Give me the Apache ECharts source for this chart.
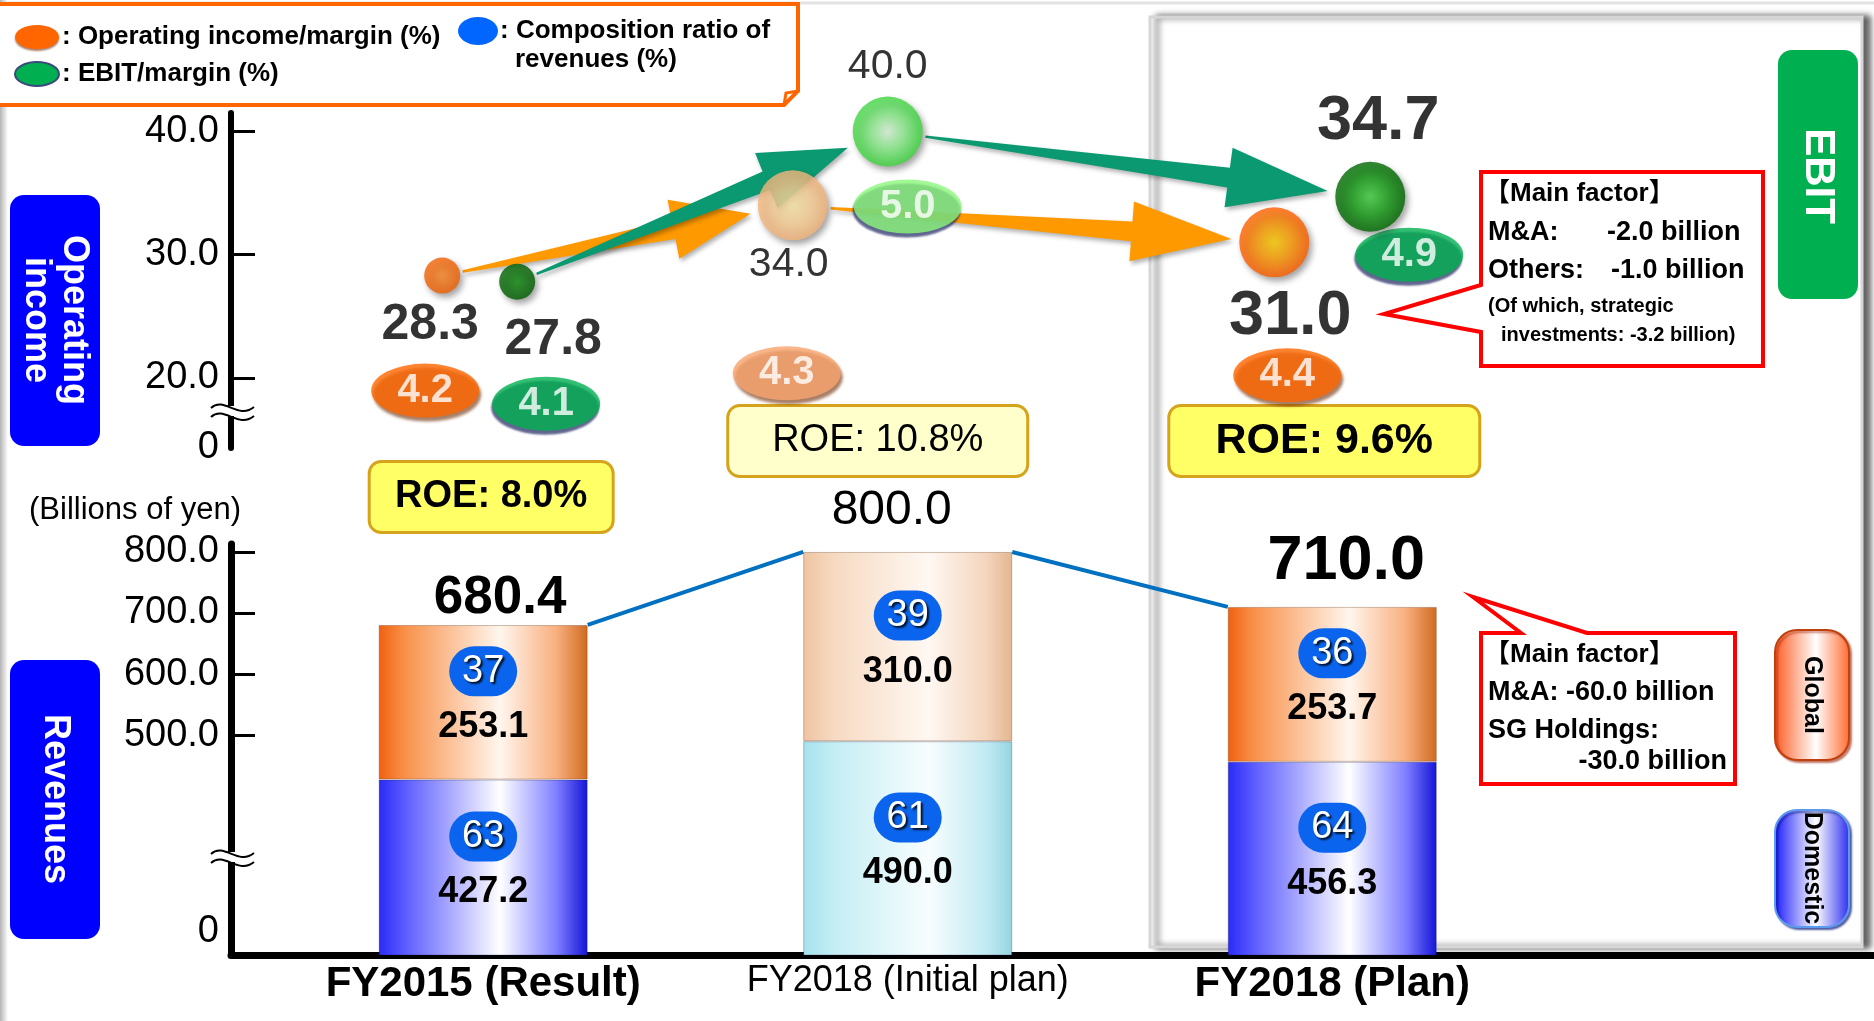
<!DOCTYPE html>
<html lang="en">
<head>
<meta charset="utf-8">
<title>Operating income, EBIT and revenues: FY2015 vs FY2018</title>
<script src="https://cdn.jsdelivr.net/npm/echarts@6.0.0/dist/echarts.min.js"></script>
<style>
  html, body { margin: 0; padding: 0; background: #ffffff; }
  #chart { width: 1874px; height: 1021px; }
</style>
</head>
<body>
<div id="chart"></div>
<script>
// ---------- data (billions of yen, %) ----------
const categories      = ['FY2015 (Result)', 'FY2018 (Initial plan)', 'FY2018 (Plan)'];
const operatingIncome = [28.3, 34.0, 31.0];
const operatingMargin = [4.2, 4.3, 4.4];
const ebit            = [27.8, 40.0, 34.7];
const ebitMargin      = [4.1, 5.0, 4.9];
const roe             = [8.0, 10.8, 9.6];
const revenueDomestic = [427.2, 490.0, 456.3];
const revenueGlobal   = [253.1, 310.0, 253.7];
const revenueTotal    = [680.4, 800.0, 710.0];
const ratioDomestic   = [63, 61, 64];
const ratioGlobal     = [37, 39, 36];
const incomeTicks     = [20, 30, 40];
const revenueTicks    = [500, 600, 700, 800];

// ---------- layout & styling ----------
const FONT = '"Liberation Sans", Arial, "Noto Sans CJK JP", sans-serif';
// both value axes are broken: the base of each axis is labelled 0
const INCOME_AXIS  = { min: 14.3, max: 41.5 };
const REVENUE_AXIS = { min: 140, max: 813 };
const X_RANGE      = { min: -0.594, max: 3.276 };
const BAR_W = 209;

// horizontal nudges (px) of the two marker columns inside each category slot
const OP_DX     = [-41, -115, -58];
const EBIT_DX   = [34, -20, 38];
const BALL_SIZE = [36, 70, 70];

const OP_LABEL = [
  { dx: -12, dy: 50, size: 50, weight: 'bold' },
  { dx: -4,  dy: 59, size: 41, weight: 'normal' },
  { dx: 16,  dy: 74, size: 63, weight: 'bold' }
];
const EBIT_LABEL = [
  { dx: 36, dy: 58,  size: 50, weight: 'bold' },
  { dx: 0,  dy: -65, size: 41, weight: 'normal' },
  { dx: 8,  dy: -75, size: 63, weight: 'bold' }
];
const OP_BADGE = [
  { dx: -17, dy: 115, fill: '#FF6600' },
  { dx: -6,  dy: 168, fill: '#F9A46E' },
  { dx: 13,  dy: 133, fill: '#FF6600' }
];
const EBIT_BADGE = [
  { dx: 29, dy: 122, fill: '#00B050' },
  { dx: 20, dy: 75,  fill: '#8CF77A' },
  { dx: 39, dy: 58,  fill: '#00B050' }
];
const ROE_BOX = [
  { dx: 8,   cy: 497, w: 244, h: 71, fill: '#FFFF66', size: 38, weight: 'bold' },
  { dx: -30, cy: 441, w: 300, h: 71, fill: '#FFFFCC', size: 38, weight: 'normal' },
  { dx: -8,  cy: 441, w: 311, h: 71, fill: '#FFFF66', size: 43, weight: 'bold' }
];
const TOTAL_LABEL = [
  { dx: 17,  dy: -27, size: 53, weight: 'bold' },
  { dx: -16, dy: -41, size: 48, weight: 'normal' },
  { dx: 14,  dy: -45, size: 63, weight: 'bold' }
];
const CATEGORY_STYLE = ['b', 'r', 'b'];
const ARROW = { tail: 1.2, shaft: 10, wing: 30, headMin: 70, headMax: 100, headRatio: 0.22 };
const ARROW_COLOR = ['#FF9900', '#0A9970'];

function radial(stops) {
  return new echarts.graphic.RadialGradient(0.5, 0.5, 0.5,
    stops.map(([offset, color]) => ({ offset, color })));
}
function linearH(stops) {
  return new echarts.graphic.LinearGradient(0, 0, 1, 0,
    stops.map(([offset, color]) => ({ offset, color })));
}

const OP_BALL_FILL = [
  radial([[0, '#FF8A2A'], [1, '#F05E00']]),
  radial([[0, '#FFEAA8'], [0.55, '#FDD398'], [1, '#F4B47A']]),
  radial([[0, '#FFD000'], [0.45, '#FFA000'], [1, '#FF5C00']])
];
const EBIT_BALL_FILL = [
  radial([[0, '#128C12'], [1, '#005C00']]),
  radial([[0, '#DDF7DD'], [0.5, '#8AF08A'], [1, '#3CD63C']]),
  radial([[0, '#40D240'], [0.55, '#129A12'], [1, '#006600']])
];
const BLUE_FILL   = linearH([[0, '#2A2AF6'], [0.12, '#5A5AFF'], [0.58, '#FFFFFF'], [0.85, '#8080FF'], [1, '#1414D8']]);
const CYAN_FILL   = linearH([[0, '#A6E2EC'], [0.15, '#C4EEF4'], [0.6, '#F8FDFE'], [0.88, '#C0EAF2'], [1, '#96D4E0']]);
const ORANGE_FILL = linearH([[0, '#F06010'], [0.12, '#F89048'], [0.58, '#FFF6EE'], [0.85, '#F8B080'], [1, '#D06A20']]);
const PEACH_FILL  = linearH([[0, '#EEC4A2'], [0.15, '#F6DAC2'], [0.6, '#FFF8F2'], [0.88, '#F4D4BC'], [1, '#E2B690']]);
const DOMESTIC_FILL = [BLUE_FILL, CYAN_FILL, BLUE_FILL];
const GLOBAL_FILL   = [ORANGE_FILL, PEACH_FILL, ORANGE_FILL];

const BAR_RICH = {
  c: {
    color: '#fff', backgroundColor: '#0A64EE', width: 68, height: 50, lineHeight: 50,
    borderRadius: 25, align: 'center', fontSize: 38, fontFamily: FONT,
    textShadowColor: 'rgba(0,0,0,0.85)', textShadowBlur: 2, textShadowOffsetX: 2, textShadowOffsetY: 2
  },
  v: { color: '#000', fontSize: 36, fontWeight: 'bold', lineHeight: 62, align: 'center', fontFamily: FONT }
};

// ---------- helpers for drawn annotations ----------
function text(x, y, str, size, weight, align) {
  return {
    type: 'text', x, y, z: 30,
    style: { text: str, fontSize: size, fontWeight: weight || 'normal', fontFamily: FONT,
             fill: '#000', align: align || 'left', verticalAlign: 'middle' }
  };
}
function vtext(cx, cy, str, size, color, lineHeight) {
  return {
    type: 'text', x: cx, y: cy, rotation: -Math.PI / 2, z: 31,
    style: { text: str, fontSize: size, fontWeight: 'bold', fontFamily: FONT, fill: color,
             align: 'center', verticalAlign: 'middle', lineHeight: lineHeight || size }
  };
}
function breakMark(y) {
  return [
    { type: 'rect', shape: { x: 222, y: y - 6, width: 20, height: 10 }, style: { fill: '#fff' }, z: 12 },
    { type: 'bezierCurve', shape: { x1: 211, y1: y - 4, cpx1: 224, cpy1: y - 16, cpx2: 238, cpy2: y + 8, x2: 254, y2: y - 5 },
      style: { stroke: '#000', lineWidth: 2, fill: null }, z: 13 },
    { type: 'bezierCurve', shape: { x1: 211, y1: y + 5, cpx1: 224, cpy1: y - 7, cpx2: 238, cpy2: y + 17, x2: 254, y2: y + 4 },
      style: { stroke: '#000', lineWidth: 2, fill: null }, z: 13 }
  ];
}

// ---------- series renderers ----------
function renderArrow(params, api) {
  const i0 = api.value(0), i1 = api.value(2), s = api.value(4);
  const dx = s === 0 ? OP_DX : EBIT_DX;
  const a = api.coord([i0, api.value(1)]); a[0] += dx[i0];
  const b = api.coord([i1, api.value(3)]); b[0] += dx[i1];
  let ux = b[0] - a[0], uy = b[1] - a[1];
  const len = Math.hypot(ux, uy); ux /= len; uy /= len;
  const nx = -uy, ny = ux;
  const r0 = BALL_SIZE[i0] / 2 + 3, r1 = BALL_SIZE[i1] / 2 + 8;
  const st = [a[0] + ux * r0, a[1] + uy * r0];
  const tip = [b[0] - ux * r1, b[1] - uy * r1];
  const head = Math.max(ARROW.headMin, Math.min(ARROW.headMax, len * ARROW.headRatio));
  const hb = [tip[0] - ux * head, tip[1] - uy * head];
  const P = (p, k) => [p[0] + nx * k, p[1] + ny * k];
  return {
    type: 'polygon',
    shape: { points: [P(st, ARROW.tail), P(hb, ARROW.shaft), P(hb, ARROW.wing), tip,
                      P(hb, -ARROW.wing), P(hb, -ARROW.shaft), P(st, -ARROW.tail)] },
    style: { fill: ARROW_COLOR[s], shadowBlur: 4, shadowColor: 'rgba(0,0,0,0.3)', shadowOffsetX: 2, shadowOffsetY: 3 }
  };
}

function renderRoe(params, api) {
  const i = api.value(0);
  const b = ROE_BOX[i];
  const cx = api.coord([i, INCOME_AXIS.min])[0] + b.dx;
  return {
    type: 'group',
    children: [
      { type: 'rect', shape: { x: cx - b.w / 2, y: b.cy - b.h / 2, width: b.w, height: b.h, r: 12 },
        style: { fill: b.fill, stroke: '#D6A41C', lineWidth: 3 } },
      { type: 'text', x: cx, y: b.cy,
        style: { text: 'ROE: ' + api.value(1).toFixed(1) + '%', fontSize: b.size, fontWeight: b.weight,
                 fontFamily: FONT, fill: '#000', align: 'center', verticalAlign: 'middle' } }
    ]
  };
}

function renderTotals(params, api) {
  const i = api.value(0), v = api.value(1);
  const p = api.coord([i, v]);
  const t = TOTAL_LABEL[i];
  const children = [];
  if (i < revenueTotal.length - 1) {
    const q = api.coord([i + 1, revenueTotal[i + 1]]);
    children.push({ type: 'line',
      shape: { x1: p[0] + BAR_W / 2, y1: p[1], x2: q[0] - BAR_W / 2, y2: q[1] },
      style: { stroke: '#0070C0', lineWidth: 4 } });
  }
  children.push({ type: 'text', x: p[0] + t.dx, y: p[1] + t.dy,
    style: { text: v.toFixed(1), fontSize: t.size, fontWeight: t.weight, fontFamily: FONT,
             fill: '#000', align: 'center', verticalAlign: 'middle' } });
  return { type: 'group', children };
}

// ---------- series data built from the arrays ----------
const arrowData = [];
[operatingIncome, ebit].forEach((vals, s) => {
  for (let i = 0; i < vals.length - 1; i++) arrowData.push([i, vals[i], i + 1, vals[i + 1], s]);
});

function ballData(vals, dxs, fills, labels) {
  return vals.map((v, i) => ({
    value: [i, v],
    symbolSize: BALL_SIZE[i],
    symbolOffset: [dxs[i], 0],
    itemStyle: { color: fills[i] },
    label: { offset: [labels[i].dx, labels[i].dy], fontSize: labels[i].size, fontWeight: labels[i].weight }
  }));
}
function badgeData(vals, dxs, badges) {
  return vals.map((v, i) => ({
    value: [i, v],
    symbolOffset: [dxs[i] + badges[i].dx, badges[i].dy],
    itemStyle: { color: badges[i].fill }
  }));
}
// stacked bars: the amount is stored first so the stack runs on the revenue dimension
function barData(vals, fills) {
  return vals.map((v, i) => ({ value: [v, i], itemStyle: { color: fills[i] } }));
}

const option = {
  animation: false,
  backgroundColor: '#ffffff',
  textStyle: { fontFamily: FONT },
  grid: [
    { left: 231, right: 0, top: 113, height: 335, outerBoundsMode: 'none' },
    { left: 231, right: 0, top: 544, height: 411, outerBoundsMode: 'none' }
  ],
  xAxis: [
    { gridIndex: 0, type: 'value', min: X_RANGE.min, max: X_RANGE.max, show: false },
    {
      gridIndex: 1, type: 'value', min: X_RANGE.min, max: X_RANGE.max,
      axisLine: { show: true, onZero: false, lineStyle: { color: '#000', width: 7 } },
      axisTick: { show: false }, splitLine: { show: false },
      axisLabel: {
        customValues: categories.map((c, i) => i), margin: 8,
        formatter: v => { const i = Math.round(v); return '{' + CATEGORY_STYLE[i] + '|' + categories[i] + '}'; },
        rich: {
          b: { fontSize: 42, fontWeight: 'bold', color: '#000', fontFamily: FONT },
          r: { fontSize: 36, color: '#000', fontFamily: FONT }
        }
      }
    }
  ],
  yAxis: [
    {
      gridIndex: 0, type: 'value', min: INCOME_AXIS.min, max: INCOME_AXIS.max,
      axisLine: { show: true, onZero: false, lineStyle: { color: '#000', width: 6 } },
      axisTick: { show: true, inside: true, length: 24, customValues: incomeTicks, lineStyle: { color: '#000', width: 3 } },
      splitLine: { show: false },
      axisLabel: {
        customValues: [INCOME_AXIS.min].concat(incomeTicks), margin: 12, fontSize: 38, color: '#000',
        formatter: v => v < incomeTicks[0] ? '0' : v.toFixed(1)
      }
    },
    {
      gridIndex: 1, type: 'value', min: REVENUE_AXIS.min, max: REVENUE_AXIS.max,
      axisLine: { show: true, onZero: false, lineStyle: { color: '#000', width: 7 } },
      axisTick: { show: true, inside: true, length: 24, customValues: revenueTicks, lineStyle: { color: '#000', width: 3 } },
      splitLine: { show: false },
      axisLabel: {
        customValues: [REVENUE_AXIS.min].concat(revenueTicks), margin: 12, fontSize: 38, color: '#000',
        formatter: v => v < revenueTicks[0] ? '{z|0}' : v.toFixed(1),
        rich: { z: { fontSize: 38, color: '#000', padding: [0, 0, 46, 0], fontFamily: FONT } }
      }
    }
  ],
  series: [
    {
      type: 'custom', name: 'Trend', xAxisIndex: 0, yAxisIndex: 0, silent: true, z: 2,
      encode: { x: [0, 2], y: [1, 3] },
      renderItem: renderArrow, data: arrowData
    },
    {
      type: 'custom', name: 'ROE', xAxisIndex: 0, yAxisIndex: 0, silent: true, z: 3,
      encode: { x: 0, y: -1 },
      renderItem: renderRoe, data: roe.map((v, i) => [i, v])
    },
    {
      type: 'scatter', name: 'Operating margin (%)', xAxisIndex: 0, yAxisIndex: 0, z: 4,
      symbol: 'circle', symbolSize: [108, 54],
      data: badgeData(operatingIncome, OP_DX, OP_BADGE),
      itemStyle: { shadowBlur: 3, shadowColor: 'rgba(110,40,0,0.75)', shadowOffsetX: 2, shadowOffsetY: 4 },
      label: { show: true, position: 'inside', color: '#fff', fontSize: 40, fontWeight: 'bold',
               formatter: p => operatingMargin[p.dataIndex].toFixed(1) }
    },
    {
      type: 'scatter', name: 'EBIT margin (%)', xAxisIndex: 0, yAxisIndex: 0, z: 4,
      symbol: 'circle', symbolSize: [108, 54],
      data: badgeData(ebit, EBIT_DX, EBIT_BADGE),
      itemStyle: { shadowBlur: 2, shadowColor: 'rgba(20,30,90,0.85)', shadowOffsetX: -1, shadowOffsetY: 4 },
      label: { show: true, position: 'inside', color: '#fff', fontSize: 40, fontWeight: 'bold',
               formatter: p => ebitMargin[p.dataIndex].toFixed(1) }
    },
    {
      type: 'scatter', name: 'Operating income/margin (%)', xAxisIndex: 0, yAxisIndex: 0, z: 5,
      symbol: 'circle',
      data: ballData(operatingIncome, OP_DX, OP_BALL_FILL, OP_LABEL),
      itemStyle: { shadowBlur: 6, shadowColor: 'rgba(0,0,0,0.45)', shadowOffsetX: 3, shadowOffsetY: 4 },
      label: { show: true, position: 'inside', color: '#000', formatter: p => p.value[1].toFixed(1) }
    },
    {
      type: 'scatter', name: 'EBIT/margin (%)', xAxisIndex: 0, yAxisIndex: 0, z: 5,
      symbol: 'circle',
      data: ballData(ebit, EBIT_DX, EBIT_BALL_FILL, EBIT_LABEL),
      itemStyle: { shadowBlur: 6, shadowColor: 'rgba(0,0,0,0.45)', shadowOffsetX: 3, shadowOffsetY: 4 },
      label: { show: true, position: 'inside', color: '#000', formatter: p => p.value[1].toFixed(1) }
    },
    {
      type: 'bar', name: 'Domestic', stack: 'revenues', xAxisIndex: 1, yAxisIndex: 1, barWidth: BAR_W,
      encode: { x: 1, y: 0 },
      data: barData(revenueDomestic, DOMESTIC_FILL),
      itemStyle: { borderColor: 'rgba(0,0,60,0.25)', borderWidth: 1 },
      label: { show: true, position: 'inside', rich: BAR_RICH,
               formatter: p => '{c|' + ratioDomestic[p.dataIndex] + '}\n{v|' + revenueDomestic[p.dataIndex].toFixed(1) + '}' }
    },
    {
      type: 'bar', name: 'Global', stack: 'revenues', xAxisIndex: 1, yAxisIndex: 1, barWidth: BAR_W,
      encode: { x: 1, y: 0 },
      data: barData(revenueGlobal, GLOBAL_FILL),
      itemStyle: { borderColor: 'rgba(90,40,0,0.3)', borderWidth: 1 },
      label: { show: true, position: 'inside', rich: BAR_RICH,
               formatter: p => '{c|' + ratioGlobal[p.dataIndex] + '}\n{v|' + revenueGlobal[p.dataIndex].toFixed(1) + '}' }
    },
    {
      type: 'custom', name: 'Revenues', xAxisIndex: 1, yAxisIndex: 1, silent: true, z: 6,
      encode: { x: 0, y: 1 },
      renderItem: renderTotals, data: revenueTotal.map((v, i) => [i, v])
    }
  ],
  graphic: [].concat(
    [
      // page frame
      { type: 'line', shape: { x1: 0, y1: 3, x2: 1874, y2: 3 }, style: { stroke: '#e2e2e2', lineWidth: 3 }, z: -2 },
      { type: 'rect', shape: { x: 0, y: 0, width: 8, height: 1021 },
        style: { fill: linearH([[0, '#b4b4b4'], [1, '#ffffff']]) }, z: -2 },
      // FY2018 (Plan) panel
      { type: 'rect', shape: { x: 1150, y: 17, width: 712, height: 930 },
        style: { fill: '#ffffff', stroke: '#d6d6d6', lineWidth: 3,
                 shadowColor: 'rgba(0,0,0,0.6)', shadowBlur: 6, shadowOffsetX: 7 }, z: -1 },

      // key box
      { type: 'polygon', shape: { points: [[-4, 4], [798, 4], [798, 91], [784, 105], [-4, 105]] },
        style: { fill: '#ffffff', stroke: '#FF6600', lineWidth: 4 }, z: 20 },
      { type: 'polyline', shape: { points: [[784, 105], [786, 93], [798, 91]] },
        style: { stroke: '#FF6600', lineWidth: 3, fill: null }, z: 21 },
      { type: 'ellipse', shape: { cx: 37, cy: 37, rx: 22, ry: 12 },
        style: { fill: '#FF6600', shadowColor: 'rgba(120,40,0,0.6)', shadowBlur: 2, shadowOffsetY: 2 }, z: 22 },
      { type: 'ellipse', shape: { cx: 37, cy: 74, rx: 22, ry: 12 },
        style: { fill: '#00B050', stroke: '#3A4A7A', lineWidth: 2 }, z: 22 },
      { type: 'ellipse', shape: { cx: 478, cy: 31, rx: 20, ry: 14 }, style: { fill: '#0066FF' }, z: 22 },
      text(62, 37, ': Operating income/margin (%)', 26, 'bold'),
      text(62, 74, ': EBIT/margin (%)', 26, 'bold'),
      text(500, 31, ': Composition ratio of', 26, 'bold'),
      text(515, 60, 'revenues (%)', 26, 'bold'),

      // axis captions
      { type: 'rect', shape: { x: 10, y: 195, width: 90, height: 251, r: 14 }, style: { fill: '#0000FF' }, z: 25 },
      vtext(55, 320, 'Operating\nincome', 36, '#ffffff', 38),
      { type: 'rect', shape: { x: 10, y: 660, width: 90, height: 279, r: 14 }, style: { fill: '#0000FF' }, z: 25 },
      vtext(55, 799, 'Revenues', 36, '#ffffff'),
      text(135, 510, '(Billions of yen)', 31, 'normal', 'center'),

      // EBIT tag
      { type: 'rect', shape: { x: 1778, y: 50, width: 80, height: 249, r: 14 }, style: { fill: '#00B050' }, z: 25 },
      vtext(1818, 176, 'EBIT', 42, '#ffffff'),

      // segment tags
      { type: 'rect', shape: { x: 1775, y: 630, width: 74, height: 130, r: 22 },
        style: { fill: linearH([[0, '#FF5A20'], [0.55, '#FFFFFF'], [1, '#FF6A30']]), stroke: '#C0400E', lineWidth: 2,
                 shadowColor: 'rgba(150,30,0,0.5)', shadowBlur: 2, shadowOffsetX: 2, shadowOffsetY: 2 }, z: 25 },
      vtext(1812, 695, 'Global', 25, '#000000'),
      { type: 'rect', shape: { x: 1775, y: 810, width: 74, height: 117, r: 22 },
        style: { fill: linearH([[0, '#1A1AFF'], [0.55, '#FFFFFF'], [1, '#2A2AF0']]), stroke: '#5C9AF0', lineWidth: 2,
                 shadowColor: 'rgba(0,20,120,0.6)', shadowBlur: 2, shadowOffsetX: 2, shadowOffsetY: 2 }, z: 25 },
      vtext(1812, 868, 'Domestic', 25, '#000000'),

      // callout on EBIT
      { type: 'polygon', shape: { points: [[1481, 172], [1763, 172], [1763, 366], [1481, 366], [1481, 332], [1384, 314], [1481, 285]] },
        style: { fill: '#ffffff', stroke: '#FF0000', lineWidth: 4, lineJoin: 'miter' }, z: 26 },
      text(1484, 194, '【Main factor】', 26, 'bold'),
      text(1488, 233, 'M&A:', 27, 'bold'),
      text(1607, 233, '-2.0 billion', 27, 'bold'),
      text(1488, 271, 'Others:', 27, 'bold'),
      text(1611, 271, '-1.0 billion', 27, 'bold'),
      text(1488, 306, '(Of which, strategic', 20, 'bold'),
      text(1501, 335, 'investments: -3.2 billion)', 20, 'bold'),

      // callout on revenues
      { type: 'polygon', shape: { points: [[1481, 633], [1521, 633], [1473, 597], [1587, 633], [1735, 633], [1735, 784], [1481, 784]] },
        style: { fill: '#ffffff', stroke: '#FF0000', lineWidth: 4, lineJoin: 'miter' }, z: 26 },
      text(1484, 655, '【Main factor】', 26, 'bold'),
      text(1488, 693, 'M&A: -60.0 billion', 27, 'bold'),
      text(1488, 731, 'SG Holdings:', 27, 'bold'),
      text(1727, 762, '-30.0 billion', 27, 'bold', 'right')
    ],
    breakMark(412),
    breakMark(858)
  )
};

const chart = echarts.init(document.getElementById('chart'), null, { renderer: 'canvas' });
chart.setOption(option);
</script>
</body>
</html>
